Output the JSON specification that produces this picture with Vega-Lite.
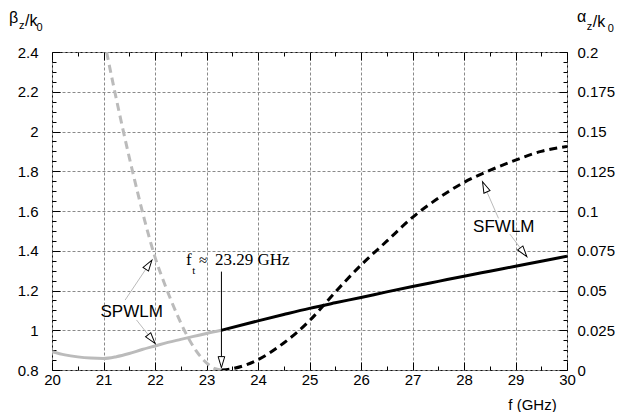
{
  "$schema": "https://vega.github.io/schema/vega-lite/v6.json",
  "width": 515,
  "height": 318,
  "autosize": {"type": "none"},
  "padding": {"left": 52, "top": 52, "right": 64, "bottom": 42},
  "background": "white",
  "config": {
    "view": {"stroke": "#111111", "strokeWidth": 1},
    "axis": {
      "labelFont": "Liberation Sans",
      "labelFontSize": 15,
      "labelColor": "black",
      "tickColor": "black",
      "tickWidth": 1,
      "gridColor": "#8a8a8a",
      "gridDash": [3, 2],
      "gridWidth": 1,
      "domain": false,
      "labelFlush": false,
      "labelOverlap": false
    }
  },
  "datasets": {
    "beta": [
      {"mode": "SPWLM", "f": 20, "b": 0.892},
      {"mode": "SPWLM", "f": 20.25, "b": 0.876},
      {"mode": "SPWLM", "f": 20.5, "b": 0.866},
      {"mode": "SPWLM", "f": 20.75, "b": 0.86},
      {"mode": "SPWLM", "f": 21, "b": 0.858},
      {"mode": "SPWLM", "f": 21.25, "b": 0.867},
      {"mode": "SPWLM", "f": 21.5, "b": 0.883},
      {"mode": "SPWLM", "f": 21.75, "b": 0.903},
      {"mode": "SPWLM", "f": 22, "b": 0.921},
      {"mode": "SPWLM", "f": 22.25, "b": 0.939},
      {"mode": "SPWLM", "f": 22.5, "b": 0.954},
      {"mode": "SPWLM", "f": 22.75, "b": 0.969},
      {"mode": "SPWLM", "f": 23, "b": 0.984},
      {"mode": "SPWLM", "f": 23.29, "b": 1.0},
      {"mode": "SFWLM", "f": 23.29, "b": 1.0},
      {"mode": "SFWLM", "f": 24, "b": 1.047},
      {"mode": "SFWLM", "f": 24.5, "b": 1.079},
      {"mode": "SFWLM", "f": 25, "b": 1.11},
      {"mode": "SFWLM", "f": 25.5, "b": 1.138},
      {"mode": "SFWLM", "f": 26, "b": 1.165},
      {"mode": "SFWLM", "f": 26.5, "b": 1.193},
      {"mode": "SFWLM", "f": 27, "b": 1.22},
      {"mode": "SFWLM", "f": 27.5, "b": 1.246},
      {"mode": "SFWLM", "f": 28, "b": 1.272},
      {"mode": "SFWLM", "f": 28.5, "b": 1.297},
      {"mode": "SFWLM", "f": 29, "b": 1.322},
      {"mode": "SFWLM", "f": 29.5, "b": 1.347},
      {"mode": "SFWLM", "f": 30, "b": 1.372}
    ],
    "alpha": [
      {"mode": "SPWLM", "f": 21.06, "a": 0.2},
      {"mode": "SPWLM", "f": 21.2, "a": 0.178},
      {"mode": "SPWLM", "f": 21.4, "a": 0.148},
      {"mode": "SPWLM", "f": 21.6, "a": 0.12},
      {"mode": "SPWLM", "f": 21.8, "a": 0.094},
      {"mode": "SPWLM", "f": 22, "a": 0.071},
      {"mode": "SPWLM", "f": 22.2, "a": 0.053},
      {"mode": "SPWLM", "f": 22.4, "a": 0.037},
      {"mode": "SPWLM", "f": 22.6, "a": 0.023},
      {"mode": "SPWLM", "f": 22.8, "a": 0.012},
      {"mode": "SPWLM", "f": 23, "a": 0.0045},
      {"mode": "SPWLM", "f": 23.15, "a": 0.001},
      {"mode": "SPWLM", "f": 23.29, "a": 0},
      {"mode": "SFWLM", "f": 23.29, "a": 0},
      {"mode": "SFWLM", "f": 23.5, "a": 0.0008},
      {"mode": "SFWLM", "f": 23.75, "a": 0.003},
      {"mode": "SFWLM", "f": 24, "a": 0.0065},
      {"mode": "SFWLM", "f": 24.5, "a": 0.017},
      {"mode": "SFWLM", "f": 25, "a": 0.031},
      {"mode": "SFWLM", "f": 25.5, "a": 0.049},
      {"mode": "SFWLM", "f": 26, "a": 0.066},
      {"mode": "SFWLM", "f": 26.5, "a": 0.081},
      {"mode": "SFWLM", "f": 27, "a": 0.096},
      {"mode": "SFWLM", "f": 27.5, "a": 0.108},
      {"mode": "SFWLM", "f": 28, "a": 0.118},
      {"mode": "SFWLM", "f": 28.5, "a": 0.1255},
      {"mode": "SFWLM", "f": 29, "a": 0.132},
      {"mode": "SFWLM", "f": 29.5, "a": 0.1375},
      {"mode": "SFWLM", "f": 30, "a": 0.1405}
    ],
    "arrows": [
      {"kind": "label", "f": 21.42, "b": 1.152, "f2": 21.94, "b2": 1.353},
      {"kind": "label", "f": 21.64, "b": 1.052, "f2": 22.0, "b2": 0.934},
      {"kind": "label", "f": 28.67, "b": 1.563, "f2": 28.36, "b2": 1.747},
      {"kind": "label", "f": 28.89, "b": 1.484, "f2": 29.22, "b2": 1.37},
      {"kind": "ft", "f": 23.29, "b": 1.295, "f2": 23.29, "b2": 0.812}
    ]
  },
  "resolve": {
    "scale": {"y": "independent"},
    "axis": {"x": "independent", "y": "independent"}
  },
  "layer": [
    {
      "data": {"name": "beta"},
      "mark": {"type": "point", "opacity": 0},
      "encoding": {
        "x": {"field": "f", "type": "quantitative", "scale": {"domain": [20, 30], "nice": false, "zero": false},
          "axis": {"orient": "bottom", "values": [20.5, 21.5, 22.5, 23.5, 24.5, 25.5, 26.5, 27.5, 28.5, 29.5], "tickSize": -4, "labels": false, "grid": false, "title": null}},
        "y": {"field": "b", "type": "quantitative", "scale": {"domain": [0.8, 2.4], "nice": false, "zero": false},
          "axis": {"orient": "left", "values": [0.85, 0.9, 0.95, 1.05, 1.1, 1.15, 1.25, 1.3, 1.35, 1.45, 1.5, 1.55, 1.65, 1.7, 1.75, 1.85, 1.9, 1.95, 2.05, 2.1, 2.15, 2.25, 2.3, 2.35], "tickSize": -4, "labels": false, "grid": false, "title": null}}
      }
    },
    {
      "data": {"name": "beta"},
      "mark": {"type": "point", "opacity": 0},
      "encoding": {
        "x": {"field": "f", "type": "quantitative", "scale": {"domain": [20, 30], "nice": false, "zero": false},
          "axis": {"orient": "top", "values": [20.5, 21.5, 22.5, 23.5, 24.5, 25.5, 26.5, 27.5, 28.5, 29.5], "tickSize": -4, "labels": false, "grid": false, "title": null}},
        "y": {"field": "b", "type": "quantitative", "scale": {"domain": [0.8, 2.4], "nice": false, "zero": false},
          "axis": {"orient": "right", "values": [0.85, 0.9, 0.95, 1.05, 1.1, 1.15, 1.25, 1.3, 1.35, 1.45, 1.5, 1.55, 1.65, 1.7, 1.75, 1.85, 1.9, 1.95, 2.05, 2.1, 2.15, 2.25, 2.3, 2.35], "tickSize": -4, "labels": false, "grid": false, "title": null}}
      }
    },
    {
      "data": {"name": "beta"},
      "mark": {"type": "line", "strokeWidth": 3, "interpolate": "monotone", "clip": true},
      "encoding": {
        "x": {"field": "f", "type": "quantitative", "scale": {"domain": [20, 30], "nice": false, "zero": false},
          "axis": {"orient": "bottom", "values": [20, 21, 22, 23, 24, 25, 26, 27, 28, 29, 30], "format": ".4~g", "tickSize": -8, "labelPadding": 10, "grid": true,
            "title": "f (GHz)", "titleFont": "Liberation Sans", "titleFontSize": 15, "titleFontWeight": "normal", "titleColor": "black",
            "titleX": 480, "titleY": 39.5, "titleBaseline": "alphabetic", "titleAlign": "center"}},
        "y": {"field": "b", "type": "quantitative", "scale": {"domain": [0.8, 2.4], "nice": false, "zero": false},
          "axis": {"orient": "left", "values": [0.8, 1, 1.2, 1.4, 1.6, 1.8, 2, 2.2, 2.4], "format": ".4~g", "tickSize": -8, "labelPadding": 22, "grid": true, "title": null}},
        "color": {"field": "mode", "type": "nominal", "scale": {"domain": ["SPWLM", "SFWLM"], "range": ["#bbbbbb", "#000000"]}, "legend": null}
      }
    },
    {
      "data": {"name": "alpha"},
      "mark": {"type": "line", "strokeWidth": 3, "strokeDash": [8, 5], "interpolate": "monotone", "clip": true},
      "encoding": {
        "x": {"field": "f", "type": "quantitative", "scale": {"domain": [20, 30], "nice": false, "zero": false},
          "axis": {"orient": "top", "values": [20, 21, 22, 23, 24, 25, 26, 27, 28, 29, 30], "tickSize": -8, "labels": false, "grid": false, "title": null}},
        "y": {"field": "a", "type": "quantitative", "scale": {"domain": [0, 0.2], "nice": false, "zero": false},
          "axis": {"orient": "right", "values": [0, 0.025, 0.05, 0.075, 0.1, 0.125, 0.15, 0.175, 0.2], "format": ".4~g", "tickSize": -8, "labelPadding": 18, "grid": false, "title": null}},
        "color": {"field": "mode", "type": "nominal", "scale": {"domain": ["SPWLM", "SFWLM"], "range": ["#bbbbbb", "#000000"]}, "legend": null}
      }
    },
    {
      "data": {"name": "arrows"},
      "mark": {"type": "rule", "strokeWidth": 1},
      "encoding": {
        "x": {"field": "f", "type": "quantitative", "scale": {"domain": [20, 30], "nice": false, "zero": false}, "axis": null},
        "y": {"field": "b", "type": "quantitative", "scale": {"domain": [0.8, 2.4], "nice": false, "zero": false}, "axis": null},
        "x2": {"field": "f2"},
        "y2": {"field": "b2"},
        "color": {"field": "kind", "type": "nominal", "scale": {"domain": ["label", "ft"], "range": ["#000000", "#707070"]}, "legend": null}
      }
    },
    {
      "data": {"name": "arrows"},
      "transform": [
        {"calculate": "atan2((datum.f2 - datum.f) * 51.5, (datum.b2 - datum.b) * 198.75) * 180 / PI", "as": "ang"}
      ],
      "mark": {"type": "point", "shape": "M0,0L0.3,1L-0.3,1Z", "size": 484, "filled": true, "fill": "white", "stroke": "black", "strokeWidth": 1, "opacity": 1},
      "encoding": {
        "x": {"field": "f2", "type": "quantitative", "scale": {"domain": [20, 30], "nice": false, "zero": false}, "axis": null},
        "y": {"field": "b2", "type": "quantitative", "scale": {"domain": [0.8, 2.4], "nice": false, "zero": false}, "axis": null},
        "angle": {"field": "ang", "type": "quantitative", "scale": null}
      }
    },
    {
      "data": {"values": [
        {"label": "SPWLM", "f": 21.547, "b": 1.091},
        {"label": "SFWLM", "f": 28.773, "b": 1.52}
      ]},
      "mark": {"type": "text", "font": "Liberation Sans", "fontSize": 17, "align": "center", "baseline": "middle", "color": "black"},
      "encoding": {
        "x": {"field": "f", "type": "quantitative", "scale": {"domain": [20, 30], "nice": false, "zero": false}, "axis": null},
        "y": {"field": "b", "type": "quantitative", "scale": {"domain": [0.8, 2.4], "nice": false, "zero": false}, "axis": null},
        "text": {"field": "label"}
      }
    },
    {
      "data": {"values": [
        {"label": "f", "f": 22.602, "b": 1.328},
        {"label": "23.29 GHz", "f": 23.165, "b": 1.328}
      ]},
      "mark": {"type": "text", "font": "Liberation Serif", "fontSize": 17, "align": "left", "baseline": "alphabetic", "color": "black"},
      "encoding": {
        "x": {"field": "f", "type": "quantitative", "scale": {"domain": [20, 30], "nice": false, "zero": false}, "axis": null},
        "y": {"field": "b", "type": "quantitative", "scale": {"domain": [0.8, 2.4], "nice": false, "zero": false}, "axis": null},
        "text": {"field": "label"}
      }
    },
    {
      "data": {"values": [
        {"label": "t", "f": 22.724, "b": 1.283}
      ]},
      "mark": {"type": "text", "font": "Liberation Serif", "fontSize": 11, "align": "left", "baseline": "alphabetic", "color": "black"},
      "encoding": {
        "x": {"field": "f", "type": "quantitative", "scale": {"domain": [20, 30], "nice": false, "zero": false}, "axis": null},
        "y": {"field": "b", "type": "quantitative", "scale": {"domain": [0.8, 2.4], "nice": false, "zero": false}, "axis": null},
        "text": {"field": "label"}
      }
    },
    {
      "data": {"values": [
        {"label": "≈", "f": 22.854, "b": 1.328}
      ]},
      "mark": {"type": "text", "font": "Liberation Serif", "fontSize": 15, "align": "left", "baseline": "alphabetic", "color": "black"},
      "encoding": {
        "x": {"field": "f", "type": "quantitative", "scale": {"domain": [20, 30], "nice": false, "zero": false}, "axis": null},
        "y": {"field": "b", "type": "quantitative", "scale": {"domain": [0.8, 2.4], "nice": false, "zero": false}, "axis": null},
        "text": {"field": "label"}
      }
    },
    {
      "data": {"values": [
        {"label": "β", "f": 19.165, "b": 2.546},
        {"label": "/k", "f": 19.475, "b": 2.531},
        {"label": "α", "f": 30.194, "b": 2.551},
        {"label": "/k", "f": 30.5, "b": 2.528}
      ]},
      "mark": {"type": "text", "font": "Liberation Sans", "fontSize": 16, "align": "left", "baseline": "alphabetic", "color": "black"},
      "encoding": {
        "x": {"field": "f", "type": "quantitative", "scale": {"domain": [20, 30], "nice": false, "zero": false}, "axis": null},
        "y": {"field": "b", "type": "quantitative", "scale": {"domain": [0.8, 2.4], "nice": false, "zero": false}, "axis": null},
        "text": {"field": "label"}
      }
    },
    {
      "data": {"values": [
        {"label": "z", "f": 19.36, "b": 2.518},
        {"label": "0", "f": 19.7, "b": 2.508},
        {"label": "z", "f": 30.384, "b": 2.511},
        {"label": "0", "f": 30.79, "b": 2.503}
      ]},
      "mark": {"type": "text", "font": "Liberation Sans", "fontSize": 11, "align": "left", "baseline": "alphabetic", "color": "black"},
      "encoding": {
        "x": {"field": "f", "type": "quantitative", "scale": {"domain": [20, 30], "nice": false, "zero": false}, "axis": null},
        "y": {"field": "b", "type": "quantitative", "scale": {"domain": [0.8, 2.4], "nice": false, "zero": false}, "axis": null},
        "text": {"field": "label"}
      }
    }
  ]
}
